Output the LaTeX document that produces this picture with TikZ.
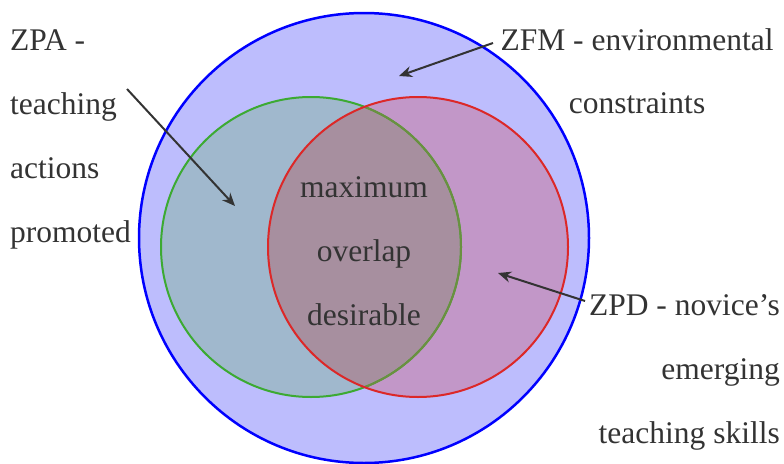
\documentclass[tikz,border=0pt]{standalone}
\usepackage{fontspec}
\setmainfont{Liberation Serif}
\usetikzlibrary{arrows.meta}
\definecolor{outerfill}{HTML}{BDBDFD}
\definecolor{outerline}{HTML}{0000FF}
\definecolor{zpafill}{HTML}{A0B8CD}
\definecolor{zpdfill}{HTML}{C297C8}
\definecolor{bothfill}{HTML}{A78F9F}
\definecolor{zpaline}{HTML}{3CAA32}
\definecolor{zpalinedim}{HTML}{6A9040}
\definecolor{zpdline}{HTML}{DC2828}
\definecolor{ink}{HTML}{333333}
\tikzset{
  lbl/.style={text=ink, inner sep=0pt, font=\fontsize{31.5}{38}\selectfont},
  pointer/.style={draw=ink, line width=2pt, -{Stealth[length=13pt,width=11pt]}},
}
\begin{document}
\begin{tikzpicture}[x=1pt,y=-1pt]
\useasboundingbox (0,0) rectangle (784,463);
% zones
\fill[outerfill] (364,238) circle[radius=225];
\fill[zpafill] (311,247) circle[radius=150];
\fill[zpdfill] (418,247) circle[radius=150];
\begin{scope}
  \clip (311,247) circle[radius=150];
  \fill[bothfill] (418,247) circle[radius=150];
\end{scope}
% outlines
\draw[outerline, line width=2.5pt] (364,238) circle[radius=225];
\draw[zpaline, line width=2pt] (311,247) circle[radius=150];
\begin{scope}
  \clip (418,247) circle[radius=150];
  \draw[zpalinedim, line width=2pt] (311,247) circle[radius=150];
\end{scope}
\draw[zpdline, line width=2pt] (418,247) circle[radius=150];
% ZPA label
\node[lbl, anchor=base west] (zpa1) at (10,50) {ZPA -};
\node[lbl, anchor=base west] (zpa2) at (10,114) {teaching};
\node[lbl, anchor=base west] (zpa3) at (10,178) {actions};
\node[lbl, anchor=base west] (zpa4) at (10,242) {promoted};
% ZFM label
\node[lbl, anchor=base] (zfm1) at (637,50) {ZFM - environmental};
\node[lbl, anchor=base] (zfm2) at (637,113) {constraints};
% ZPD label
\node[lbl, anchor=base east] (zpd1) at (780,315) {ZPD - novice’s};
\node[lbl, anchor=base east] (zpd2) at (780,379) {emerging};
\node[lbl, anchor=base east] (zpd3) at (780,443) {teaching skills};
% overlap label
\node[lbl, anchor=base] (mid1) at (364,197) {maximum};
\node[lbl, anchor=base] (mid2) at (364,261) {overlap};
\node[lbl, anchor=base] (mid3) at (364,325) {desirable};
% pointers
\coordinate (zpaFrom) at (127,89);
\coordinate (zpaTo) at (235,206);
\coordinate (zfmFrom) at (493,43);
\coordinate (zfmTo) at (399,76);
\coordinate (zpdFrom) at (585,301);
\coordinate (zpdTo) at (498,273);
\draw[pointer] (zpaFrom) -- (zpaTo);
\draw[pointer] (zfmFrom) -- (zfmTo);
\draw[pointer] (zpdFrom) -- (zpdTo);
\end{tikzpicture}
\end{document}
